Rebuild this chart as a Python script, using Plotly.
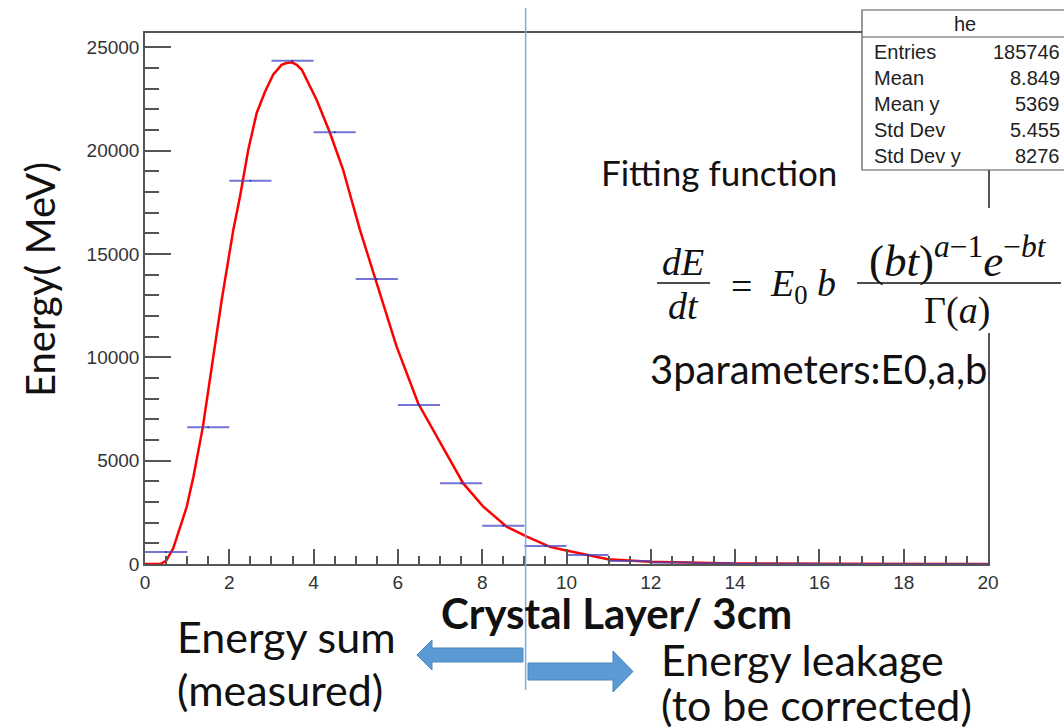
import plotly.graph_objects as go

# ---------------- data ----------------
bin_centers = [0.5, 1.5, 2.5, 3.5, 4.5, 5.5, 6.5, 7.5, 8.5, 9.5,
               10.5, 11.5, 12.5, 13.5, 14.5, 15.5, 16.5, 17.5, 18.5, 19.5]
bin_values = [580, 6620, 18550, 24360, 20900, 13790, 7690, 3910, 1850, 870,
              440, 150, 70, 35, 18, 9, 4, 2, 1, 0]
bin_half_width = [0.5] * 20

fit_x = [0, 0.36, 0.50, 0.67, 0.99, 1.15, 1.37, 1.58, 1.82, 2.095, 2.254, 2.45,
         2.65, 2.85, 3.04, 3.24, 3.36, 3.48, 3.60, 3.72, 4.07, 4.39, 4.70,
         5.10, 5.50, 5.97, 6.48, 6.92, 7.55, 8.03, 8.58, 9.06, 9.61, 9.97,
         10.98, 11.98, 12.88, 14, 16, 18, 20]
fit_y = [0, 0, 150, 760, 2770, 4230, 6600, 9550, 12780, 16170, 17790, 20050,
         21830, 22870, 23680, 24160, 24250, 24280, 24160, 23920, 22470, 20860, 19080,
         16170, 13590, 10520, 7780, 6160, 3900, 2770, 1800, 1320, 830, 670,
         230, 110, 60, 30, 10, 4, 2]

x_range = [0, 20]
y_range = [0, 25700]
x_ticks = [0, 2, 4, 6, 8, 10, 12, 14, 16, 18, 20]
y_ticks = [0, 5000, 10000, 15000, 20000, 25000]
y_tick_text = ["0", "5000", "10000", "15000", "20000", "25000"]
cut_layer = 9.03

stats_labels = ["Entries", "Mean", "Mean y", "Std Dev", "Std Dev y"]
stats_values = ["185746", "8.849", "5369", "5.455", "8276"]

# ---------------- geometry helpers (pixel -> paper) ----------------
W, H = 1064, 728
L, R, T, B = 145, 988, 33, 564


def px(x):
    return (x - L) / (R - L)


def py(y):
    return (B - y) / (B - T)


fig = go.Figure()

fig.add_trace(go.Scatter(
    x=fit_x, y=fit_y, mode="lines",
    line=dict(color="#ff0000", width=2.5),
    hoverinfo="skip", showlegend=False))

fig.add_trace(go.Scatter(
    x=bin_centers, y=bin_values, mode="markers",
    marker=dict(size=2, color="rgba(40,40,160,0.9)"),
    error_x=dict(type="data", array=bin_half_width, visible=True,
                 color="rgba(70,70,195,0.75)", thickness=2, width=0),
    showlegend=False))

axis_font = dict(family="Liberation Sans, Arial", size=19, color="#333")
fig.update_xaxes(range=x_range, tickvals=x_ticks, ticks="inside", ticklen=15,
                 tickwidth=1.5, tickcolor="#555", showline=True, linecolor="#555",
                 linewidth=1.5, mirror=True, showgrid=False, zeroline=False,
                 tickfont=axis_font,
                 minor=dict(dtick=0.5, ticks="inside", ticklen=8, tickwidth=1.5,
                            tickcolor="#555", showgrid=False))
fig.update_yaxes(range=y_range, tickvals=y_ticks, ticktext=y_tick_text,
                 ticks="inside", ticklen=26,
                 tickwidth=1.5, tickcolor="#555", showline=True, linecolor="#555",
                 linewidth=1.5, mirror=True, showgrid=False, zeroline=False,
                 tickfont=axis_font,
                 minor=dict(dtick=1000, ticks="inside", ticklen=14, tickwidth=1.5,
                            tickcolor="#555", showgrid=False))

shapes = []
# white patch behind the formula (covers right frame)
shapes.append(dict(type="rect", xref="paper", yref="paper", layer="above",
                   x0=px(645), x1=px(1064), y0=py(333), y1=py(208),
                   fillcolor="white", line=dict(width=0)))
# stats box
shapes.append(dict(type="rect", xref="paper", yref="paper", layer="above",
                   x0=px(862), x1=px(1070), y0=py(170), y1=py(10),
                   fillcolor="white", line=dict(color="#555", width=1.2)))
shapes.append(dict(type="line", xref="paper", yref="paper", layer="above",
                   x0=px(862), x1=px(1070), y0=py(37), y1=py(37),
                   line=dict(color="#555", width=1.2)))
# cut line
shapes.append(dict(type="line", xref="x", yref="paper", layer="above",
                   x0=cut_layer, x1=cut_layer, y0=py(690), y1=py(8),
                   line=dict(color="#7ab0e0", width=1.5)))


def poly(pts):
    return "M " + " L ".join(f"{px(a):.5f},{py(b):.5f}" for a, b in pts) + " Z"


left_arrow = [(417, 655), (432, 640), (432, 648), (523, 648), (523, 662),
              (432, 662), (432, 670)]
right_arrow = [(528, 663), (613, 663), (613, 651), (633, 671.5), (613, 692),
               (613, 680), (528, 680)]
for pts in (left_arrow, right_arrow):
    shapes.append(dict(type="path", xref="paper", yref="paper", layer="above",
                       path=poly(pts), fillcolor="#5b9bd5",
                       line=dict(color="#4a86be", width=1)))
# fraction bars
shapes.append(dict(type="line", xref="paper", yref="paper", layer="above",
                   x0=px(657), x1=px(710), y0=py(283), y1=py(283),
                   line=dict(color="#111", width=1.5)))
shapes.append(dict(type="line", xref="paper", yref="paper", layer="above",
                   x0=px(857), x1=px(1061), y0=py(283), y1=py(283),
                   line=dict(color="#111", width=1.5)))

annotations = []


def txt(text, x, y, size, family, xanchor="left", yanchor="middle",
        color="#111", angle=0):
    annotations.append(dict(text=text, x=px(x), y=py(y), xref="paper", yref="paper",
                            xanchor=xanchor, yanchor=yanchor, showarrow=False,
                            textangle=angle,
                            font=dict(size=size, family=family, color=color)))


slide = "Lato, Open Sans, sans-serif"
serif = "Liberation Serif, DejaVu Serif, serif"

txt("Energy( MeV)", 40, 280, 40, slide, xanchor="center", angle=-90)
txt("<b>Crystal Layer/ 3cm</b>", 616, 613, 42, slide, xanchor="center")
txt("Fitting function", 599, 172, 35, slide)
txt("3parameters:E0,a,b", 648, 369, 40, slide)
txt("Energy sum", 175, 636, 43, slide)
txt("(measured)", 175, 689, 43, slide)
txt("Energy leakage", 659, 659, 43, slide)
txt("(to be corrected)", 659, 705, 43, slide)

# formula
txt("<i>dE</i>", 683, 262, 38, serif, xanchor="center")
txt("<i>dt</i>", 683, 306, 38, serif, xanchor="center")
txt("=", 741, 286, 38, serif, xanchor="center")
txt("<i>E</i><sub>0</sub> <i>b</i>", 768, 286, 38, serif)
txt("(<i>bt</i>)<sup><i>a</i>−1</sup><i>e</i><sup>−<i>bt</i></sup>", 958, 257, 45, serif,
    xanchor="center")
txt("Γ(<i>a</i>)", 957, 310, 38, serif, xanchor="center")

# stats box text
stat_font = "Liberation Sans, Arial"
txt("he", 965, 24, 20, stat_font, xanchor="center", color="#222")
row_y = [52, 78, 104, 130, 156]
for lab, val, yy in zip(stats_labels, stats_values, row_y):
    txt(lab, 872, yy, 20, stat_font, color="#222")
    txt(val, 1062, yy, 20, stat_font, xanchor="right", color="#222")

fig.update_layout(width=W, height=H, margin=dict(l=L, r=W - R, t=T, b=H - B),
                  paper_bgcolor="white", plot_bgcolor="white",
                  shapes=shapes, annotations=annotations, showlegend=False)

fig.write_html("out.html")
